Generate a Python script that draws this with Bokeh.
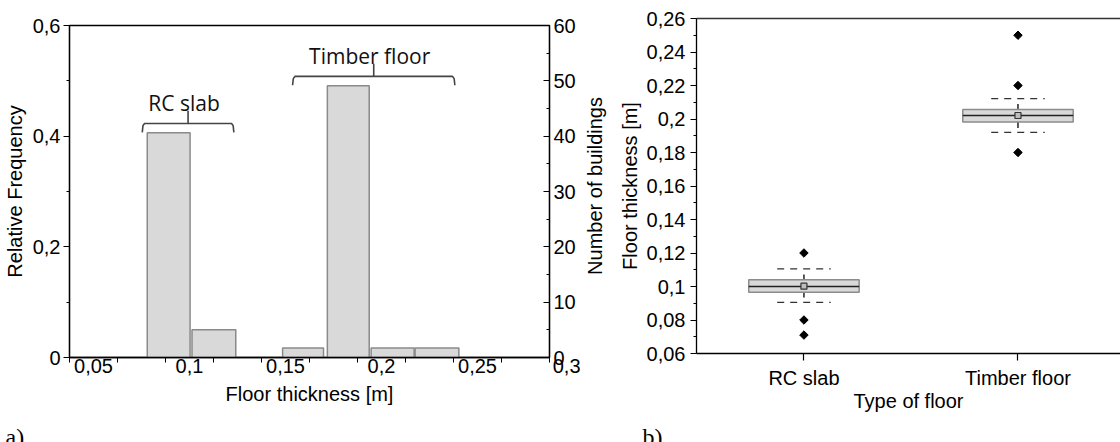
import math
from bokeh.plotting import figure
from bokeh.models import (Range1d, LinearAxis, FixedTicker, CustomJSTickFormatter, ColumnDataSource)
from bokeh.layouts import row, column
from bokeh.embed import file_html
from bokeh.resources import INLINE
from bokeh.core.properties import value

# ---------------- Panel a) histogram ----------------
bin_left = [0.0905, 0.1138, 0.1610, 0.1843, 0.2071, 0.2300]
bin_right = [0.1128, 0.1366, 0.1823, 0.2061, 0.2295, 0.2528]
rel_freq = [0.406, 0.050, 0.017, 0.491, 0.017, 0.017]

x_ticks_a = [0.05, 0.1, 0.15, 0.2, 0.25, 0.3]
x_tick_labels_a = ["0,05", "0,1", "0,15", "0,2", "0,25", "0,3"]
x_minor_a = [0.075, 0.125, 0.175, 0.225, 0.275]
y_ticks_a = [0, 0.2, 0.4, 0.6]
y_minor_a = [0.1, 0.3, 0.5]
count_ticks = [0, 10, 20, 30, 40, 50, 60]
count_minor = [5, 15, 25, 35, 45, 55]

group_names = ["RC slab", "Timber floor"]
group_left = [0.0879, 0.1662]
group_right = [0.1356, 0.2507]
group_level = [0.423, 0.508]

# ---------------- Panel b) box plot ----------------
categories = ["RC slab", "Timber floor"]
q1 = [0.0965, 0.1982]
q3 = [0.1040, 0.2057]
median = [0.1000, 0.2021]
mean = [0.1002, 0.2021]
whisker_low = [0.0935, 0.1946]
whisker_high = [0.1072, 0.2090]
pct_low = [0.0905, 0.1920]
pct_high = [0.1105, 0.2122]
outlier_cat = ["RC slab", "RC slab", "RC slab", "Timber floor", "Timber floor", "Timber floor"]
outlier_val = [0.120, 0.080, 0.071, 0.250, 0.220, 0.180]
y_ticks_b = [0.06, 0.08, 0.10, 0.12, 0.14, 0.16, 0.18, 0.20, 0.22, 0.24, 0.26]
y_minor_b = [0.07, 0.09, 0.11, 0.13, 0.15, 0.17, 0.19, 0.21, 0.23, 0.25]

panel_tags = ["a)", "b)"]

FONT = "Liberation Sans"
ANNOT_FONT = "Open Sans"
PANEL_FONT = "Liberation Serif"
TOTAL_W, TOTAL_H = 1120, 442
ROW_H = 420
W_A = 580
W_B = TOTAL_W - W_A
comma = CustomJSTickFormatter(code="return String(Math.round(tick*1000)/1000).replace('.', ',');")


def style_axis(ax):
    ax.axis_line_color = "black"
    ax.axis_line_width = 1.3
    ax.major_tick_line_color = "black"
    ax.minor_tick_line_color = "black"
    ax.major_tick_line_width = 1.2
    ax.minor_tick_line_width = 1.0
    ax.major_label_text_font = FONT
    ax.major_label_text_font_size = "20px"
    ax.major_label_text_color = "black"
    ax.axis_label_text_font = FONT
    ax.axis_label_text_font_size = "20px"
    ax.axis_label_text_font_style = "normal"
    ax.axis_label_text_color = "black"


# ---- figure a
LABEL_SHIFT = 0.0125   # tick labels sit half a minor step right of their ticks in the original
pa = figure(width=W_A, height=ROW_H, title=None, x_range=Range1d(0.05, 0.3), y_range=Range1d(0, 0.6),
            x_axis_location=None, output_backend="svg", toolbar_location=None,
            min_border_left=67, min_border_right=31, min_border_top=25, min_border_bottom=ROW_H - 357)
pa.xgrid.visible = False
pa.ygrid.visible = False
pa.outline_line_color = "black"
pa.outline_line_width = 1.3
pa.extra_y_ranges = {"count": Range1d(0, 60)}
lab_start = pa.x_range.start - LABEL_SHIFT
lab_end = pa.x_range.end - LABEL_SHIFT
pa.extra_x_ranges = {"lab": Range1d(lab_start, lab_end)}

pa.quad(left=bin_left, right=bin_right, bottom=0, top=rel_freq,
        fill_color="#d9d9d9", line_color="#8a8a8a", line_width=1.5)

# braces
xs, ys = [], []
drop, spike, hook = 0.016, 0.023, 0.0012
for L, R, lev in zip(group_left, group_right, group_level):
    C = (L + R) / 2
    xs.append([L, L + hook * 0.3, L + hook, R - hook, R - hook * 0.3, R])
    ys.append([lev - drop, lev - 0.004, lev, lev, lev - 0.004, lev - drop])
    xs.append([C, C])
    ys.append([lev, lev + spike])
pa.multi_line(xs=xs, ys=ys, line_color="#444444", line_width=1.6)
pa.text(x=[(L + R) / 2 for L, R in zip(group_left, group_right)],
        y=[lev + 0.037 for lev in group_level], text=group_names, x_offset=-4,
        text_font=value(ANNOT_FONT), text_font_size="21px", text_color="#111111",
        text_align="center", text_baseline="alphabetic")

# bottom axis: marks at the true ticks (drawn as minor ticks), labels shifted as in the original
true_ticks = sorted(x_ticks_a + x_minor_a)
lab_major = [t for t in x_ticks_a if t <= lab_end + 1e-12] + [lab_end]
overrides = {t: l for t, l in zip(x_ticks_a, x_tick_labels_a) if t <= lab_end + 1e-12}
overrides[lab_end] = "\u00a0" * 9 + x_tick_labels_a[-1]
xa = LinearAxis(x_range_name="lab",
                ticker=FixedTicker(ticks=lab_major, minor_ticks=[t - LABEL_SHIFT for t in true_ticks]))
style_axis(xa)
xa.major_label_overrides = overrides
xa.major_tick_out = 0
xa.major_tick_in = 0
xa.minor_tick_out = 5
xa.minor_tick_in = 0
xa.major_label_standoff = -8
xa.axis_label = "Floor thickness [m]"
xa.axis_label_standoff = 3
pa.add_layout(xa, "below")

ya = pa.yaxis[0]
style_axis(ya)
ya.ticker = FixedTicker(ticks=y_ticks_a, minor_ticks=y_minor_a)
ya.formatter = comma
ya.major_tick_out = 6
ya.major_tick_in = 0
ya.minor_tick_out = 3
ya.minor_tick_in = 0
ya.major_label_standoff = 3
ya.axis_label = "Relative Frequency"
ya.axis_label_standoff = 4

yr = LinearAxis(y_range_name="count", ticker=FixedTicker(ticks=count_ticks, minor_ticks=count_minor))
style_axis(yr)
yr.major_tick_in = 6
yr.major_tick_out = 0
yr.minor_tick_in = 3
yr.minor_tick_out = 0
yr.major_label_standoff = 4
pa.add_layout(yr, "right")

# ---- figure b
xpos = [i + 1 for i in range(len(categories))]
out_x = [categories.index(c) + 1 for c in outlier_cat]
pb = figure(width=W_B, height=ROW_H, title=None, x_range=Range1d(0.498, 2.479), y_range=Range1d(0.06, 0.26),
            output_backend="svg", toolbar_location=None,
            min_border_left=114, min_border_right=0, min_border_top=18, min_border_bottom=ROW_H - 353)
pb.xgrid.visible = False
pb.ygrid.visible = False
pb.outline_line_color = None

BOXW = 0.516
PCTW = 0.25
src = ColumnDataSource(dict(x=xpos, q1=q1, q3=q3, median=median, mean=mean,
                            wl=whisker_low, wh=whisker_high, pl=pct_low, ph=pct_high,
                            bl=[x - BOXW / 2 for x in xpos], br=[x + BOXW / 2 for x in xpos],
                            pcl=[x - PCTW / 2 for x in xpos], pcr=[x + PCTW / 2 for x in xpos]))
pb.segment(x0="x", x1="x", y0="wl", y1="wh", source=src, line_color="#222222", line_width=1.5)
pb.vbar(x="x", width=BOXW, bottom="q1", top="q3", source=src,
        fill_color="#d9d9d9", line_color="#8c8c8c", line_width=1.5)
pb.segment(x0="bl", x1="br", y0="median", y1="median", source=src, line_color="#222222", line_width=1.6)
for col in ("pl", "ph"):
    pb.segment(x0="pcl", x1="pcr", y0=col, y1=col, source=src,
               line_color="#333333", line_width=1.3, line_dash="7 6")
pb.scatter(x="x", y="mean", source=src, marker="square", size=6,
           fill_color="#bdbdbd", line_color="#333333", line_width=1.2)
pb.scatter(x=out_x, y=outlier_val, marker="square", angle=math.pi / 4, size=6, color="black")

xb = pb.xaxis[0]
style_axis(xb)
xb.ticker = FixedTicker(ticks=xpos, minor_ticks=[])
xb.major_label_overrides = {x: c for x, c in zip(xpos, categories)}
xb.major_tick_out = 7
xb.major_tick_in = 0
xb.major_label_standoff = 6
xb.axis_label = "Type of floor"
xb.axis_label_standoff = -2

yb = pb.yaxis[0]
style_axis(yb)
yb.ticker = FixedTicker(ticks=y_ticks_b, minor_ticks=y_minor_b)
yb.formatter = comma
yb.major_tick_out = 6
yb.major_tick_in = 0
yb.minor_tick_out = 3
yb.minor_tick_in = 0
yb.major_label_standoff = 5
yb.axis_label = "Floor thickness [m]"
yb.axis_label_standoff = 3

# title of panel a)'s right-hand count axis, which in the original sits in the gap between panels
count_title = LinearAxis(ticker=FixedTicker(ticks=[], minor_ticks=[]))
style_axis(count_title)
count_title.axis_line_color = None
count_title.major_tick_out = 0
count_title.minor_tick_out = 0
count_title.axis_label = "Number of buildings"
count_title.axis_label_standoff = 10
pb.add_layout(count_title, "left")

top_ax = LinearAxis(ticker=FixedTicker(ticks=[], minor_ticks=[]))
top_ax.axis_line_color = "#333333"
top_ax.axis_line_width = 1.3
top_ax.major_tick_out = 0
top_ax.minor_tick_out = 0
pb.add_layout(top_ax, "above")

# ---- strip under both panels holding the panel tags a) and b)
STRIP_H = TOTAL_H - ROW_H
strip = figure(width=TOTAL_W, height=STRIP_H, title=None,
               x_range=Range1d(0, TOTAL_W), y_range=Range1d(0, STRIP_H),
               x_axis_location=None, y_axis_location=None, min_border=0,
               output_backend="svg", toolbar_location=None)
strip.xgrid.visible = False
strip.ygrid.visible = False
strip.outline_line_color = None
TAG_BASELINE = 436.5
strip.text(x=[5, 642], y=[TOTAL_H - TAG_BASELINE] * 2, text=panel_tags,
           text_font=value(PANEL_FONT), text_font_size="24px", text_color="black",
           text_align="left", text_baseline="alphabetic")

# single-child columns keep the row from aligning the two plot frames to each other
layout = column(row(column(pa), column(pb)), strip)
open("out.html", "w").write(file_html(layout, INLINE))
